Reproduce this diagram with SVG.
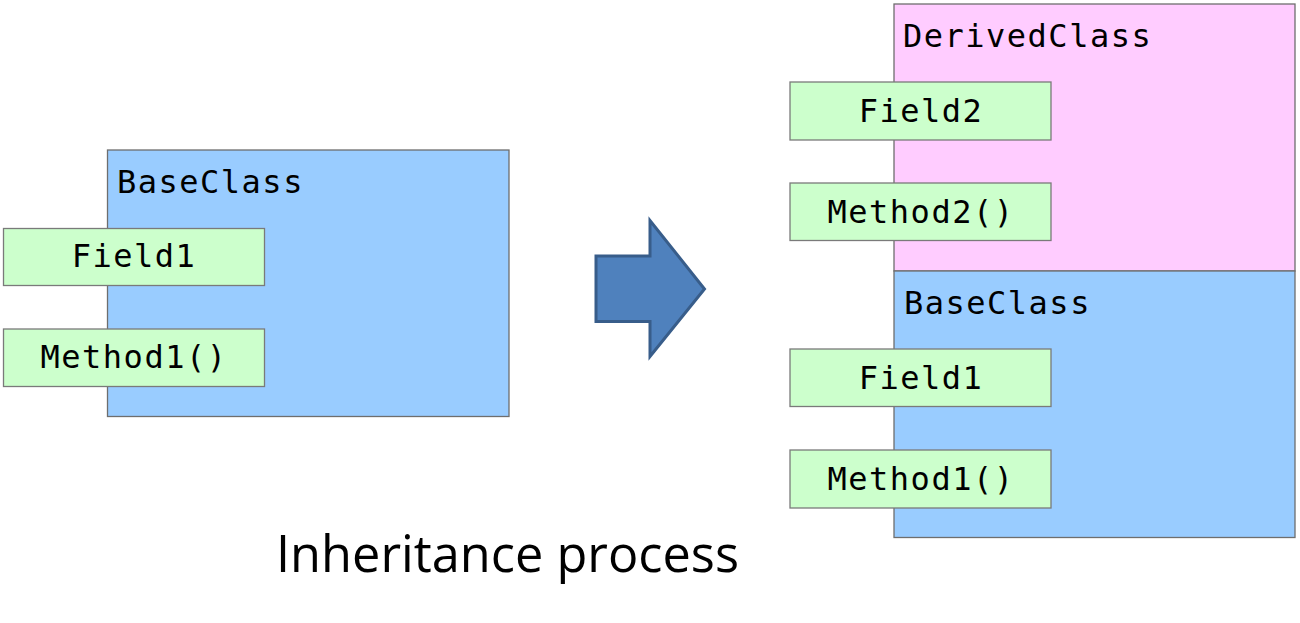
<svg xmlns="http://www.w3.org/2000/svg" width="1300" height="623" viewBox="0 0 1300 623">
<style>
.blue{fill:#99CCFF;stroke:#6E6E6E;stroke-width:1.3}
.pink{fill:#FFCCFF;stroke:#6E6E6E;stroke-width:1.3}
.green{fill:#CCFFCC;stroke:#7A7A7A;stroke-width:1.3}
.mono{font-family:"DejaVu Sans Mono","Liberation Mono",monospace;font-size:32px;fill:#000;letter-spacing:1.5px}
.c{text-anchor:middle}
.cap{font-family:"Open Sans","Noto Sans","Liberation Sans",sans-serif;font-size:52px;fill:#000}
</style>
<rect width="1300" height="623" fill="#FFFFFF"/>
<g id="base-left">
<rect class="blue" x="107.5" y="150" width="401.5" height="266.5"/>
<text class="mono" x="117" y="192.5">BaseClass</text>
</g>
<g id="field1-left">
<rect class="green" x="3.5" y="228.5" width="261" height="57"/>
<text class="mono c" x="134" y="267">Field1</text>
</g>
<g id="method1-left">
<rect class="green" x="3.5" y="329" width="261" height="57.5"/>
<text class="mono c" x="134" y="368">Method1()</text>
</g>
<g id="connectors">
<polygon points="596,256 650,256 650,220.5 704.5,289 650,356.5 650,321.5 596,321.5" fill="#4F81BD" stroke="#385D8A" stroke-width="3" stroke-linejoin="miter"/>
</g>
<g id="derived">
<rect class="pink" x="894" y="4" width="401" height="267"/>
<text class="mono" x="903" y="46.5">DerivedClass</text>
</g>
<g id="base-right">
<rect class="blue" x="894" y="271" width="401" height="266.5"/>
<text class="mono" x="904" y="314">BaseClass</text>
</g>
<g id="field2">
<rect class="green" x="790" y="82" width="261" height="58"/>
<text class="mono c" x="921" y="121.5">Field2</text>
</g>
<g id="method2">
<rect class="green" x="790" y="183" width="261" height="57.5"/>
<text class="mono c" x="921" y="222.5">Method2()</text>
</g>
<g id="field1-right">
<rect class="green" x="790" y="349" width="261" height="57.5"/>
<text class="mono c" x="921" y="388.5">Field1</text>
</g>
<g id="method1-right">
<rect class="green" x="790" y="450" width="261" height="58"/>
<text class="mono c" x="921" y="489.5">Method1()</text>
</g>
<g id="caption">
<text class="cap" x="276" y="571.5" textLength="463" lengthAdjust="spacingAndGlyphs">Inheritance process</text>
</g>
</svg>
